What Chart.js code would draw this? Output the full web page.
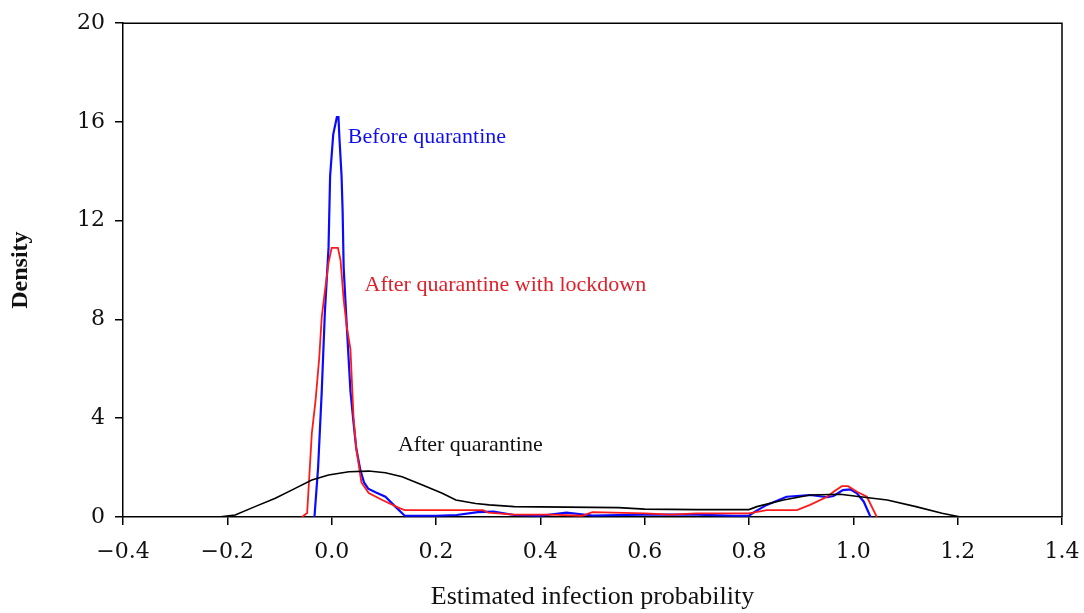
<!DOCTYPE html>
<html>
<head>
<meta charset="utf-8">
<script src="https://cdn.jsdelivr.net/npm/chart.js@4.4.1/dist/chart.umd.min.js"></script>
<style>
  body { margin: 0; background: #fff; }
  #wrap { width: 1084px; height: 613px; }
</style>
</head>
<body>
<div id="wrap"><canvas id="density-chart" width="1084" height="613"></canvas></div>
<script>
// Estimated infection probability (x) and density (y)
const beforeX = [-0.033, -0.026, -0.019, -0.013, -0.006, -0.003, 0.003, 0.010, 0.013, 0.015, 0.019, 0.021, 0.023, 0.028, 0.036, 0.042, 0.047, 0.055, 0.062, 0.070, 0.084, 0.103, 0.122, 0.140, 0.200, 0.240, 0.280, 0.310, 0.350, 0.400, 0.450, 0.500, 0.600, 0.700, 0.770, 0.800, 0.810, 0.834, 0.872, 0.917, 0.950, 0.962, 0.980, 0.994, 1.007, 1.020, 1.033];
const beforeY = [0, 2.0, 5.1, 8.3, 10.9, 13.8, 15.5, 16.2, 16.2, 15.3, 13.8, 12.4, 10.1, 8.1, 5.1, 3.8, 2.8, 1.9, 1.4, 1.15, 1.0, 0.82, 0.42, 0.05, 0.05, 0.08, 0.2, 0.22, 0.08, 0.05, 0.18, 0.06, 0.1, 0.1, 0.05, 0.05, 0.2, 0.49, 0.82, 0.89, 0.8, 0.85, 1.09, 1.12, 0.96, 0.62, 0];

const lockdownX = [-0.057, -0.047, -0.043, -0.038, -0.031, -0.024, -0.019, -0.015, -0.006, 0.000, 0.012, 0.017, 0.020, 0.023, 0.029, 0.036, 0.042, 0.047, 0.057, 0.071, 0.097, 0.130, 0.140, 0.290, 0.300, 0.350, 0.420, 0.480, 0.500, 0.600, 0.650, 0.700, 0.770, 0.800, 0.834, 0.892, 0.917, 0.950, 0.962, 0.978, 0.990, 1.007, 1.026, 1.045];
const lockdownY = [0, 0.16, 1.6, 3.4, 4.7, 6.4, 8.1, 8.8, 10.3, 10.9, 10.9, 10.4, 9.6, 8.8, 7.7, 6.8, 4.0, 2.8, 1.4, 0.97, 0.69, 0.36, 0.28, 0.28, 0.18, 0.1, 0.1, 0.05, 0.2, 0.15, 0.1, 0.15, 0.15, 0.15, 0.28, 0.28, 0.49, 0.82, 1.02, 1.25, 1.25, 1.02, 0.82, 0];

const afterX = [-0.217, -0.185, -0.147, -0.108, -0.070, -0.038, -0.006, 0.033, 0.071, 0.103, 0.135, 0.174, 0.212, 0.238, 0.276, 0.302, 0.350, 0.450, 0.550, 0.600, 0.700, 0.800, 0.815, 0.866, 0.917, 0.975, 1.013, 1.065, 1.120, 1.170, 1.206];
const afterY = [0, 0.08, 0.42, 0.76, 1.16, 1.5, 1.7, 1.83, 1.86, 1.79, 1.63, 1.3, 0.96, 0.69, 0.55, 0.49, 0.42, 0.4, 0.38, 0.32, 0.3, 0.3, 0.42, 0.69, 0.89, 0.92, 0.82, 0.69, 0.42, 0.15, 0];

const xTicks = { min: -0.4, max: 1.4, step: 0.2 };
const yTicks = { min: 0, max: 20, step: 4 };

const toPoints = (xs, ys) => xs.map((x, i) => ({ x: x, y: ys[i] }));

// curve labels, placed in data coordinates
const curveLabels = [
  { text: 'Before quarantine', x: 0.031, y: 15.4, color: '#1010ee' },
  { text: 'After quarantine with lockdown', x: 0.063, y: 9.4, color: '#e0202a' },
  { text: 'After quarantine', x: 0.127, y: 2.9, color: '#111' }
];

const frameAndLabels = {
  id: 'frameAndLabels',
  afterDraw(chart) {
    const { ctx, chartArea, scales } = chart;
    ctx.save();
    ctx.strokeStyle = '#000';
    ctx.lineWidth = 1.5;
    ctx.beginPath();
    ctx.moveTo(chartArea.left, chartArea.top);
    ctx.lineTo(chartArea.right, chartArea.top);
    ctx.lineTo(chartArea.right, chartArea.bottom);
    ctx.stroke();

    ctx.font = '22px "Liberation Serif", "Times New Roman", serif';
    ctx.textBaseline = 'middle';
    ctx.textAlign = 'left';
    curveLabels.forEach(l => {
      ctx.fillStyle = l.color;
      ctx.fillText(l.text, scales.x.getPixelForValue(l.x), scales.y.getPixelForValue(l.y));
    });
    ctx.restore();
  }
};

const tickFont = { family: '"DejaVu Serif", serif', size: 22 };
const titleFont = { family: '"Liberation Serif", "Times New Roman", serif', size: 26 };

new Chart(document.getElementById('density-chart'), {
  type: 'line',
  data: {
    datasets: [
      {
        label: 'After quarantine',
        data: toPoints(afterX, afterY),
        borderColor: '#000',
        borderWidth: 1.6
      },
      {
        label: 'After quarantine with lockdown',
        data: toPoints(lockdownX, lockdownY),
        borderColor: '#ff1a1a',
        borderWidth: 1.8
      },
      {
        label: 'Before quarantine',
        data: toPoints(beforeX, beforeY),
        borderColor: '#0a0aff',
        borderWidth: 2.2
      }
    ]
  },
  options: {
    responsive: false,
    animation: false,
    layout: { padding: { top: 23, right: 22, bottom: 0, left: 0 } },
    elements: {
      point: { radius: 0 },
      line: { tension: 0, fill: false }
    },
    plugins: {
      legend: { display: false },
      tooltip: { enabled: false }
    },
    scales: {
      x: {
        type: 'linear',
        min: xTicks.min,
        max: xTicks.max,
        afterFit(scale) {
          scale.height = 96;
          scale.paddingLeft = 0;
          scale.paddingRight = 0;
        },
        ticks: {
          stepSize: xTicks.step,
          font: tickFont,
          color: '#111',
          padding: 14,
          maxRotation: 0,
          callback: v => (Math.abs(v) < 1e-9 ? 0 : v).toFixed(1).replace('-', '\u2212')
        },
        grid: { drawOnChartArea: false, drawTicks: true, tickLength: 8, color: '#000', lineWidth: 1.5 },
        border: { color: '#000', width: 1.5 },
        title: {
          display: true,
          text: 'Estimated infection probability',
          font: titleFont,
          color: '#111',
          padding: { top: -7, bottom: 0 }
        }
      },
      y: {
        min: yTicks.min,
        max: yTicks.max,
        afterFit(scale) { scale.width = 123; },
        ticks: {
          stepSize: yTicks.step,
          font: tickFont,
          color: '#111',
          padding: 10
        },
        grid: { drawOnChartArea: false, drawTicks: true, tickLength: 8, color: '#000', lineWidth: 1.5 },
        border: { color: '#000', width: 1.5 },
        title: {
          display: true,
          text: 'Density',
          font: { family: '"Liberation Serif", "Times New Roman", serif', size: 24, weight: 'bold' },
          color: '#111',
          padding: { top: 6, bottom: 0 }
        }
      }
    }
  },
  plugins: [frameAndLabels]
});
</script>
</body>
</html>
